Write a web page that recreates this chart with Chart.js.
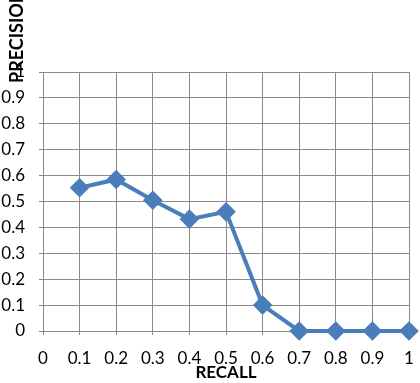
<!DOCTYPE html>
<html><head><meta charset="utf-8">
<script src="https://cdn.jsdelivr.net/npm/chart.js@4"></script>
<style>html,body{margin:0;padding:0;background:#fff}#wrap{width:420px;height:383px}</style>
</head><body><div id="wrap"><canvas id="c" width="420" height="383"></canvas></div>
<script>
const recall = [0.1, 0.2, 0.3, 0.4, 0.5, 0.6, 0.7, 0.8, 0.9, 1.0];
const precision = [0.553, 0.585, 0.505, 0.432, 0.46, 0.1, 0, 0, 0, 0];
const xTitle = 'RECALL';
const yTitle = 'PRECISION';
const FONT = 'Lato, "Liberation Sans", sans-serif';

const yTitlePlugin = {
  id: 'yTitle',
  afterDraw(chart) {
    const ctx = chart.ctx;
    ctx.save();
    ctx.translate(23, 83);
    ctx.rotate(-Math.PI / 2);
    ctx.font = 'bold 18px ' + FONT;
    ctx.fillStyle = '#000';
    ctx.textAlign = 'left';
    ctx.textBaseline = 'alphabetic';
    ctx.fillText(yTitle, 0, 0);
    ctx.restore();
  }
};

const fmt = v => String(Number(v.toFixed(1)));

new Chart(document.getElementById('c'), {
  type: 'line',
  data: {
    datasets: [{
      data: recall.map((x, i) => ({x: x, y: precision[i]})),
      borderColor: '#4a7ebb',
      backgroundColor: '#4a7ebb',
      borderWidth: 4,
      pointStyle: 'rectRot',
      pointRadius: 7,
      pointHoverRadius: 7,
      tension: 0,
      clip: false
    }]
  },
  options: {
    responsive: false,
    animation: false,
    events: [],
    layout: {padding: {top: 72, right: 7, left: 0, bottom: 0}},
    plugins: {legend: {display: false}, tooltip: {enabled: false}},
    scales: {
      x: {
        type: 'linear', min: 0, max: 1,
        border: {display: false},
        grid: {color: '#8a8a8a', lineWidth: 1, tickLength: 4},
        ticks: {stepSize: 0.1, callback: fmt, color: '#000', font: {family: FONT, size: 17}, padding: 13, maxRotation: 0, autoSkip: false},
        title: {display: true, text: xTitle, color: '#000', font: {family: FONT, size: 17, weight: 'bold'}, padding: {top: 0, bottom: 0}},
        afterFit(s) { s.height = 52; s.paddingLeft = 0; s.paddingRight = 0; }
      },
      y: {
        min: 0, max: 1,
        border: {display: false},
        grid: {color: '#8a8a8a', lineWidth: 1, tickLength: 4},
        ticks: {stepSize: 0.1, callback: fmt, color: '#000', font: {family: FONT, size: 17}, padding: 14},
        afterFit(s) { s.width = 43; s.paddingTop = 0; s.paddingBottom = 0; }
      }
    }
  },
  plugins: [yTitlePlugin]
});
</script></body></html>
